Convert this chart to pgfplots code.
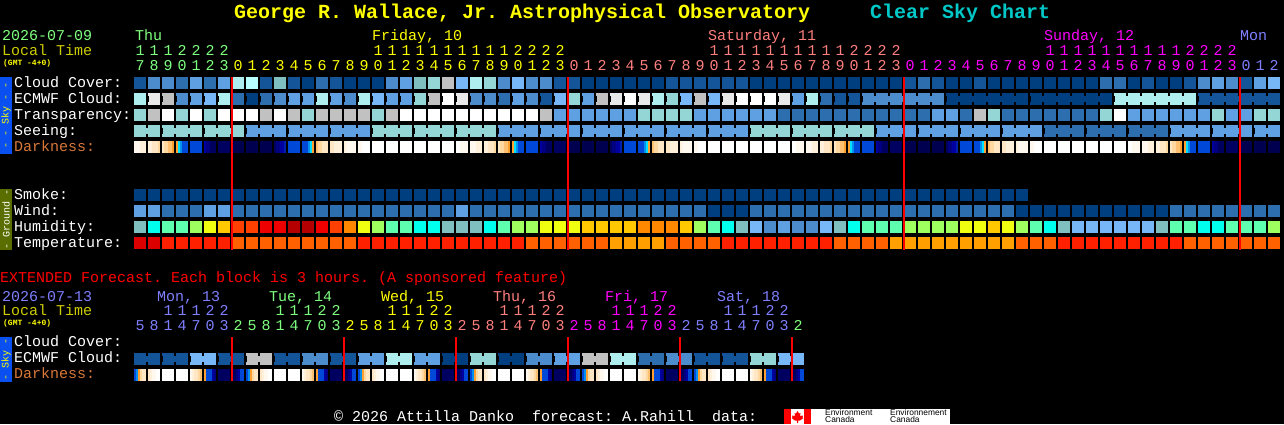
\documentclass[border=0pt]{standalone}
\usepackage{fontspec}
\usepackage{pgfplots}
\usepackage{pgfplotstable}
\pgfplotsset{compat=1.18}
\setmainfont{Liberation Mono}
\newfontfamily\logofont{Liberation Sans}

% xcolor's own ones are cmyk
\definecolor{yellow}{HTML}{FFFF00}
\definecolor{magenta}{HTML}{FF00FF}
\definecolor{red}{HTML}{FF0000}
% sky scale
\definecolor{k0}{HTML}{003F7F}
\definecolor{k1}{HTML}{135598}
\definecolor{k2}{HTML}{2C6EAE}
\definecolor{k3}{HTML}{4C8CCC}
\definecolor{k4}{HTML}{5FA0E3}
\definecolor{k5}{HTML}{77B7F7}
\definecolor{k6}{HTML}{94D6D6}
\definecolor{k7}{HTML}{AEEEEE}
\definecolor{k8}{HTML}{C1C1C1}
\definecolor{k9}{HTML}{E9E9E9}
\definecolor{kU}{HTML}{B8FFFF}
\definecolor{kV}{HTML}{7FBFBF}
% humidity
\definecolor{hc}{HTML}{00FFEC}
\definecolor{hm}{HTML}{5FFFB0}
\definecolor{hl}{HTML}{9FFF5F}
\definecolor{hy}{HTML}{EFFF0F}
\definecolor{ho}{HTML}{FFC800}
\definecolor{hp}{HTML}{FF8800}
\definecolor{hr}{HTML}{FF4000}
\definecolor{hs}{HTML}{EE0000}
\definecolor{ht}{HTML}{B40000}
% temperature
\definecolor{tD}{HTML}{DD0000}
\definecolor{tR}{HTML}{FF2000}
\definecolor{tO}{HTML}{FF6000}
\definecolor{tA}{HTML}{FFA000}
% darkness
\definecolor{dE}{HTML}{FFF8EE}
\definecolor{dF}{HTML}{FFF0DC}
\definecolor{dG}{HTML}{FFE6C4}
\definecolor{dH}{HTML}{FFD8A0}
\definecolor{dI}{HTML}{FFC070}
\definecolor{dJ}{HTML}{FFA030}
\definecolor{dK}{HTML}{00E0FF}
\definecolor{dL}{HTML}{0090F0}
\definecolor{dB}{HTML}{0048D8}
\definecolor{dM}{HTML}{0020B0}
\definecolor{dn}{HTML}{0000A0}
\definecolor{dq}{HTML}{000080}
\definecolor{dN}{HTML}{000060}
\definecolor{dZ}{HTML}{000050}
% text
\definecolor{tgreen}{HTML}{7FFF7F}
\definecolor{tsalmon}{HTML}{FF7F7F}
\definecolor{tblue}{HTML}{7F7FFF}
\definecolor{tlocal}{HTML}{CCCC00}
\definecolor{tdark}{HTML}{D87838}
\definecolor{tcyan}{HTML}{00C8C8}
\definecolor{skybar}{HTML}{0A50F0}
\definecolor{gndbar}{HTML}{5A6E00}

\pgfdeclareplotmark{cell}{\pgfpathrectangle{\pgfpoint{-6pt}{-6pt}}{\pgfpoint{12pt}{12pt}}\pgfusepathqfill}
\pgfdeclareplotmark{strip}{\pgfpathrectangle{\pgfpoint{-1.05pt}{-6pt}}{\pgfpoint{2.1pt}{12pt}}\pgfusepathqfill}
\pgfdeclareplotmark{bridge}{\pgfpathrectangle{\pgfpoint{-1.5pt}{-3pt}}{\pgfpoint{3pt}{6pt}}\pgfusepathqfill}
\pgfdeclareplotmark{midtall}{\pgfpathrectangle{\pgfpoint{-1pt}{-86.5pt}}{\pgfpoint{2pt}{173pt}}\pgfusepathqfill}
\pgfdeclareplotmark{midshort}{\pgfpathrectangle{\pgfpoint{-1pt}{-22pt}}{\pgfpoint{2pt}{44pt}}\pgfusepathqfill}

\pgfplotsset{blocks/.style={scatter, only marks, mark=#1, scatter src=explicit symbolic,
  scatter/classes={
    0={k0},1={k1},2={k2},3={k3},4={k4},5={k5},6={k6},7={k7},8={k8},9={k9},
    W={white},U={kU},V={kV},X={black},Q={red},
    c={hc},m={hm},l={hl},y={hy},o={ho},p={hp},r={hr},s={hs},t={ht},
    D={tD},R={tR},O={tO},A={tA},
    E={dE},F={dF},G={dG},H={dH},I={dI},J={dJ},K={dK},L={dL},B={dB},
    M={dM},n={dn},q={dq},N={dN},Z={dZ}}}}

% one row per hour block; sb, eb = colour of the link to the next block
\pgfplotstableread{
cloud ecmwf transp seeing sb eb smoke wind humid temp
1 7 6 6 6 X 0 4 V D
3 9 8 6 X X 0 4 c D
3 8 W 6 6 X 0 2 m R
2 3 6 6 6 X 0 2 m R
4 4 W 6 X X 0 2 l R
2 5 6 6 6 X 0 4 y R
4 7 W 6 6 X 0 4 o R
7 2 W 6 X X 0 2 r O
U 0 W 4 4 X 0 2 r O
1 2 8 4 4 X 0 2 s O
V 3 W 4 X X 0 2 s O
1 4 8 4 4 X 0 2 t O
0 4 6 4 4 X 0 2 t O
2 7 8 4 X X 0 2 s O
1 4 8 4 4 X 0 2 r O
0 3 8 4 4 X 0 2 p O
0 7 8 4 X X 0 2 y R
0 5 6 6 6 X 0 2 l R
3 4 8 6 6 X 0 2 m R
4 4 W 6 X X 0 2 m R
V 6 W 6 6 X 0 2 c R
6 8 W 6 6 X 0 2 c R
8 W W 6 X X 0 2 V R
5 9 W 6 6 X 0 4 V R
7 3 W 6 6 X 0 2 V R
6 3 W 6 X X 0 2 c R
3 2 W 4 4 X 0 2 m R
5 4 W 4 4 X 0 2 l R
3 3 W 4 X X 0 2 l O
3 1 8 4 4 X 0 2 y O
1 5 4 4 4 X 0 2 y O
1 6 4 4 X X 0 2 y O
0 4 4 4 4 X 0 2 o O
0 8 4 4 4 X 0 2 o O
0 9 4 4 X X 0 2 o A
0 W 4 4 4 X 0 2 o A
0 9 6 4 4 X 0 2 p A
0 7 6 4 X X 0 2 p A
1 6 6 4 4 X 0 2 p O
1 5 6 4 4 X 0 2 o O
1 8 4 4 X X 0 2 l O
1 5 4 4 4 X 0 0 m O
1 9 4 4 4 X 0 0 c R
1 W 4 4 X X 0 0 V R
0 W 4 6 6 X 0 2 5 R
0 W 4 6 6 X 0 2 3 R
0 9 2 6 X X 0 2 4 R
0 4 2 6 6 X 0 2 3 R
0 7 2 6 6 X 0 2 3 R
0 2 2 6 X X 0 2 5 R
0 1 2 6 6 X 0 2 V O
0 1 2 6 6 X 0 2 c O
0 3 2 6 X 3 0 2 m O
0 3 2 4 4 3 0 2 m O
0 3 2 4 4 3 0 2 m A
1 3 2 4 X 3 0 2 l A
2 3 2 4 4 3 0 2 l A
1 3 4 4 4 X 0 2 l A
0 0 4 4 X 0 0 2 l A
0 0 2 4 4 0 0 2 y A
1 0 8 4 4 0 0 2 y A
0 0 6 4 X 0 0 2 o A
0 0 2 4 4 0 0 2 y A
0 0 2 4 4 X 0 0 l O
0 0 2 4 X 0 X 0 m O
0 0 2 2 2 0 X 0 c O
0 0 2 2 2 0 X 0 V R
0 0 2 2 X 0 X 0 5 R
0 0 2 2 2 0 X 0 5 R
2 0 6 2 2 X X 0 5 R
2 7 W 2 X 7 X 0 5 R
0 7 4 2 2 7 X 0 5 R
1 7 4 2 2 7 X 0 5 R
0 7 4 2 X 7 X 0 V R
0 7 4 4 4 7 X 2 m R
1 7 4 4 4 X X 2 m O
3 1 4 4 X 1 X 2 c O
4 1 6 4 4 1 X 2 c O
3 1 4 4 4 1 X 2 m O
1 1 4 4 X 1 X 2 m O
4 1 6 4 4 1 X 2 m O
5 1 6 4 X X X 2 l O
}\maintable

% darkness, six 2px strips per block
\pgfplotstableread{
s0 s1 s2 s3 s4 s5
E E E F F F
F F G G G H
G H H I I J
J K L B B B
B B B B B B
n q q N N N
N N N N N N
Z Z Z Z Z Z
Z Z Z Z Z Z
Z Z Z Z Z Z
N q q n n M
B B B B B B
B B B L K J
I H H G G G
G G F F F F
F E E E E E
E E W W W W
W W W W W W
W W W W W W
W W W W W W
W W W W W W
W W W W W W
W W W W W W
W W E E E E
E E E F F F
F F G G G H
G H H I I J
J K L B B B
B B B B B B
n q q N N N
N N N N N N
Z Z Z Z Z Z
Z Z Z Z Z Z
Z Z Z Z Z Z
N q q n n M
B B B B B B
B B B L K J
I H H G G G
G G F F F F
F E E E E E
E E W W W W
W W W W W W
W W W W W W
W W W W W W
W W W W W W
W W W W W W
W W W W W W
W W E E E E
E E E F F F
F F G G G H
G H H I I J
J K L B B B
B B B B B B
n q q N N N
N N N N N N
Z Z Z Z Z Z
Z Z Z Z Z Z
Z Z Z Z Z Z
N q q n n M
B B B B B B
B B B L K J
I H H G G G
G G F F F F
F E E E E E
E E W W W W
W W W W W W
W W W W W W
W W W W W W
W W W W W W
W W W W W W
W W W W W W
W W E E E E
E E E F F F
F F G G G H
G H H I I J
J K L B B B
B B B B B B
n q q N N N
N N N N N N
Z Z Z Z Z Z
Z Z Z Z Z Z
Z Z Z Z Z Z
}\darktable

% extended forecast, 3 hour blocks
\pgfplotstableread{
ecmwf eb s0 s1 s2 s3 s4 s5
1 1 B L J H G G
1 X G F E E W W
1 1 W W W W W W
1 X W W W W W W
5 5 E F G G H I
5 X J B B B n q
1 1 N N N N N N
1 X N N q n B B
8 8 B L J H G G
8 X G F E E W W
1 1 W W W W W W
1 X W W W W W W
3 3 E F G G H I
3 X J B B B n q
1 1 N N N N N N
1 X N N q n B B
4 4 B L J H G G
4 X G F E E W W
7 7 W W W W W W
7 X W W W W W W
4 4 E F G G H I
4 X J B B B n q
0 0 N N N N N N
0 X N N q n B B
6 6 B L J H G G
6 X G F E E W W
0 0 W W W W W W
0 X W W W W W W
3 3 E F G G H I
3 X J B B B n q
4 4 N N N N N N
4 X N N q n B B
8 8 B L J H G G
8 X G F E E W W
7 7 W W W W W W
7 X W W W W W W
2 2 E F G G H I
2 X J B B B n q
3 3 N N N N N N
3 X N N q n B B
1 1 B L J H G G
1 X G F E E W W
1 1 W W W W W W
1 X W W W W W W
6 6 E F G G H I
6 X J B B B n q
5 5 N N N N N N
5 X N N q n B B
}\exttable

\newcommand{\txt}[4]{\node[anchor=base west,inner sep=0pt,text=#3] at (axis cs:#1,#2) {\frenchspacing #4};}
\newcommand{\digits}[4]{\node[anchor=base west,inner sep=0pt,text=#3] at (axis cs:#1,#2) {\foreach \d in {#4}{\makebox[14pt]{\d}}};}

\begin{document}
\fontsize{15}{15}\selectfont
\begin{tikzpicture}[x=1pt,y=1pt]
\useasboundingbox (0,0) rectangle (1284,424);
\fill[black] (0,0) rectangle (1284,424);
\begin{axis}[
    at={(0,0)}, anchor=south west,
    width=1284pt, height=424pt, scale only axis,
    xmin=0, xmax=1284, ymin=0, ymax=424,
    y dir=reverse,
    hide axis,
    clip=false,
]

% side bars
\fill[skybar] (axis cs:0,77) rectangle (axis cs:12,154);
\fill[gndbar] (axis cs:0,189) rectangle (axis cs:12,250);
\fill[skybar] (axis cs:0,337) rectangle (axis cs:12,382);

% main block rows
\addplot[blocks=cell] table[x expr=140+14*\coordindex, y expr=83, meta=cloud] {\maintable};
\addplot[blocks=cell] table[x expr=140+14*\coordindex, y expr=99, meta=ecmwf] {\maintable};
\addplot[blocks=bridge] table[x expr=147+14*\coordindex, y expr=99, meta=eb] {\maintable};
\addplot[blocks=cell] table[x expr=140+14*\coordindex, y expr=115, meta=transp] {\maintable};
\addplot[blocks=cell] table[x expr=140+14*\coordindex, y expr=131, meta=seeing] {\maintable};
\addplot[blocks=bridge] table[x expr=147+14*\coordindex, y expr=131, meta=sb] {\maintable};
\pgfplotsinvokeforeach{0,1,2,3,4,5}{
  \addplot[blocks=strip] table[x expr=135+2*#1+14*\coordindex, y expr=147, meta=s#1] {\darktable};
}
\addplot[blocks=cell] table[x expr=140+14*\coordindex, y expr=195, meta=smoke] {\maintable};
\addplot[blocks=cell] table[x expr=140+14*\coordindex, y expr=211, meta=wind] {\maintable};
\addplot[blocks=cell] table[x expr=140+14*\coordindex, y expr=227, meta=humid] {\maintable};
\addplot[blocks=cell] table[x expr=140+14*\coordindex, y expr=243, meta=temp] {\maintable};

% extended rows
\addplot[blocks=cell] table[x expr=140+14*\coordindex, y expr=359, meta=ecmwf] {\exttable};
\addplot[blocks=bridge] table[x expr=147+14*\coordindex, y expr=359, meta=eb] {\exttable};
\pgfplotsinvokeforeach{0,1,2,3,4,5}{
  \addplot[blocks=strip] table[x expr=135+2*#1+14*\coordindex, y expr=375, meta=s#1] {\exttable};
}

% midnight lines, drawn as marks so that they stay over the blocks
\addplot[blocks=midtall] table[meta=c] {
x y c
232 163.5 Q
568 163.5 Q
904 163.5 Q
1240 163.5 Q
};
\addplot[blocks=midshort] table[meta=c] {
x y c
232 359 Q
344 359 Q
456 359 Q
568 359 Q
680 359 Q
792 359 Q
};

% title
\txt{234}{18}{yellow}{\fontsize{20}{20}\selectfont\bfseries George R. Wallace, Jr. Astrophysical Observatory}
\txt{870}{18}{tcyan}{\fontsize{20}{20}\selectfont\bfseries Clear Sky Chart}

% header
\txt{2}{40}{tgreen}{2026-07-09}
\txt{2}{55}{tlocal}{Local Time}
\txt{3}{65}{yellow}{\fontsize{8}{8}\selectfont\bfseries (GMT -4+0)}
\txt{135}{40}{tgreen}{Thu}
\txt{372}{40}{yellow}{Friday, 10}
\txt{708}{40}{tsalmon}{Saturday, 11}
\txt{1044}{40}{magenta}{Sunday, 12}
\txt{1240}{40}{tblue}{Mon}
\digits{133}{55}{tgreen}{1,1,1,2,2,2,2}
\digits{371}{55}{yellow}{1,1,1,1,1,1,1,1,1,1,2,2,2,2}
\digits{707}{55}{tsalmon}{1,1,1,1,1,1,1,1,1,1,2,2,2,2}
\digits{1043}{55}{magenta}{1,1,1,1,1,1,1,1,1,1,2,2,2,2}
\digits{133}{70}{tgreen}{7,8,9,0,1,2,3}
\digits{231}{70}{yellow}{0,1,2,3,4,5,6,7,8,9,0,1,2,3,4,5,6,7,8,9,0,1,2,3}
\digits{567}{70}{tsalmon}{0,1,2,3,4,5,6,7,8,9,0,1,2,3,4,5,6,7,8,9,0,1,2,3}
\digits{903}{70}{magenta}{0,1,2,3,4,5,6,7,8,9,0,1,2,3,4,5,6,7,8,9,0,1,2,3}
\digits{1239}{70}{tblue}{0,1,2}

% row labels
\txt{14}{87}{white}{Cloud Cover:}
\txt{14}{103}{white}{ECMWF Cloud:}
\txt{14}{119}{white}{Transparency:}
\txt{14}{135}{white}{Seeing:}
\txt{14}{151}{tdark}{Darkness:}
\txt{14}{199}{white}{Smoke:}
\txt{14}{215}{white}{Wind:}
\txt{14}{231}{white}{Humidity:}
\txt{14}{247}{white}{Temperature:}
\node[rotate=90,text=yellow,inner sep=0pt] at (axis cs:6,115.5) {\fontsize{10}{10}\selectfont - - Sky - -};
\node[rotate=90,text=white,inner sep=0pt] at (axis cs:6,219.5) {\fontsize{10}{10}\selectfont - Ground -};

% extended forecast
\txt{0}{282}{red}{EXTENDED Forecast. Each block is 3 hours. (A sponsored feature)}
\txt{2}{301}{tblue}{2026-07-13}
\txt{2}{315}{tlocal}{Local Time}
\txt{3}{325}{yellow}{\fontsize{8}{8}\selectfont\bfseries (GMT -4+0)}
\txt{157}{301}{tblue}{Mon, 13}
\txt{269}{301}{tgreen}{Tue, 14}
\txt{381}{301}{yellow}{Wed, 15}
\txt{493}{301}{tsalmon}{Thu, 16}
\txt{605}{301}{magenta}{Fri, 17}
\txt{717}{301}{tblue}{Sat, 18}
\digits{161}{315}{tblue}{1,1,1,2,2}
\digits{273}{315}{tgreen}{1,1,1,2,2}
\digits{385}{315}{yellow}{1,1,1,2,2}
\digits{497}{315}{tsalmon}{1,1,1,2,2}
\digits{609}{315}{magenta}{1,1,1,2,2}
\digits{721}{315}{tblue}{1,1,1,2,2}
\digits{133}{330}{tblue}{5,8,1,4,7,0,3}
\digits{231}{330}{tgreen}{2,5,8,1,4,7,0,3}
\digits{343}{330}{yellow}{2,5,8,1,4,7,0,3}
\digits{455}{330}{tsalmon}{2,5,8,1,4,7,0,3}
\digits{567}{330}{magenta}{2,5,8,1,4,7,0,3}
\digits{679}{330}{tblue}{2,5,8,1,4,7,0,3}
\digits{791}{330}{tgreen}{2}
\txt{14}{346}{white}{Cloud Cover:}
\txt{14}{362}{white}{ECMWF Cloud:}
\txt{14}{378}{tdark}{Darkness:}
\node[rotate=90,text=yellow,inner sep=0pt] at (axis cs:6,359.5) {\fontsize{10}{10}\selectfont - Sky -};

% footer
\txt{334}{421}{white}{\textcopyright{} 2026 Attilla Danko~~forecast: A.Rahill~~data:}
\fill[white] (axis cs:784,409) rectangle (axis cs:950,424);
\fill[red] (axis cs:784,409) rectangle (axis cs:791,424);
\fill[red] (axis cs:804,409) rectangle (axis cs:811,424);
\fill[red] (axis cs:797.5,411) -- (axis cs:799,413.5) -- (axis cs:800.5,413) -- (axis cs:800,416)
  -- (axis cs:803,415.5) -- (axis cs:802.5,417.5) -- (axis cs:803.5,418) -- (axis cs:800,420.5)
  -- (axis cs:798,420.5) -- (axis cs:798,423) -- (axis cs:797,423) -- (axis cs:797,420.5)
  -- (axis cs:795,420.5) -- (axis cs:791.5,418) -- (axis cs:792.5,417.5) -- (axis cs:792,415.5)
  -- (axis cs:795,416) -- (axis cs:794.5,413) -- (axis cs:796,413.5) -- cycle;
\txt{825}{415}{black}{\logofont\fontsize{8.4}{8.4}\selectfont Environment}
\txt{825}{422.5}{black}{\logofont\fontsize{8.4}{8.4}\selectfont Canada}
\txt{890}{415}{black}{\logofont\fontsize{8.4}{8.4}\selectfont Environnement}
\txt{890}{422.5}{black}{\logofont\fontsize{8.4}{8.4}\selectfont Canada}

\end{axis}
\end{tikzpicture}
\end{document}
